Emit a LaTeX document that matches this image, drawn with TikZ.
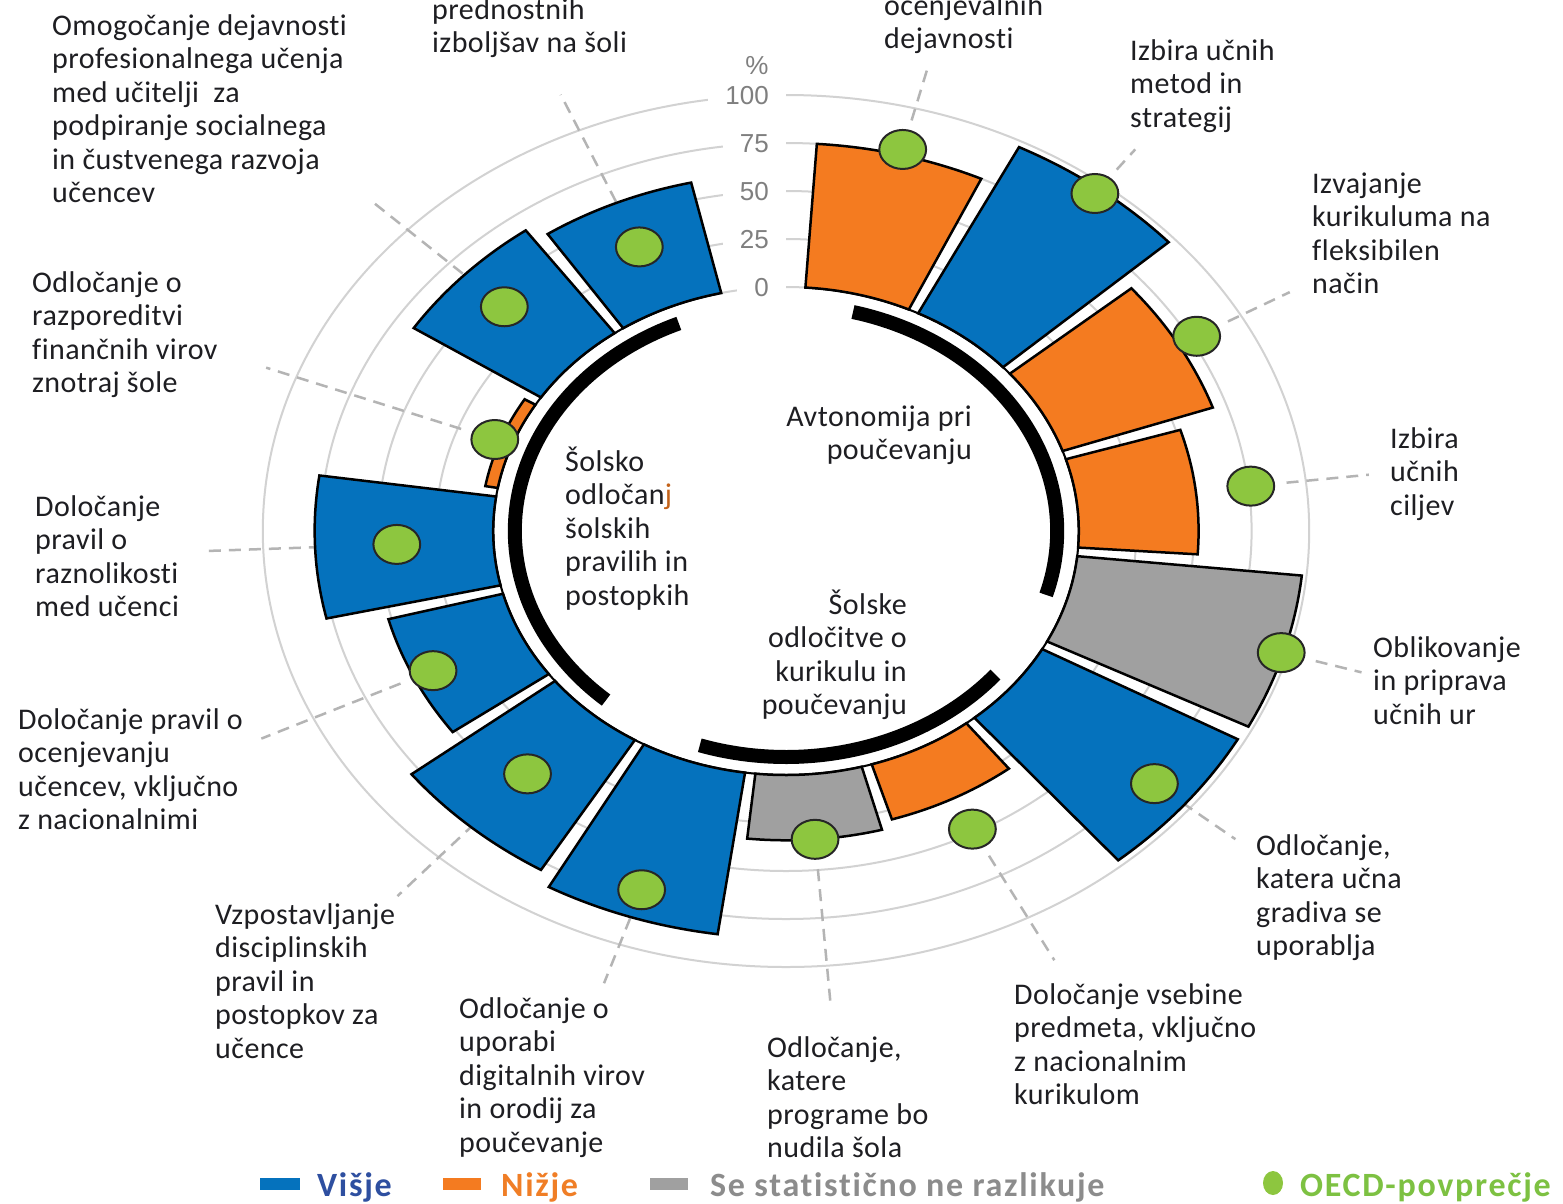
\documentclass[tikz,border=0pt]{standalone}
\usepackage{fontspec}
\setmainfont{Carlito}[LetterSpace=1.5, RawFeature={-liga}]
\newfontfamily\legfont{Carlito}[LetterSpace=5, RawFeature={-liga}]
\newfontfamily\axfont{Liberation Sans}
\definecolor{cblue}{HTML}{0572BD}
\definecolor{corange}{HTML}{F47B20}
\definecolor{cgray}{HTML}{A0A0A0}
\definecolor{cgreen}{HTML}{8DC63F}
\definecolor{ringc}{HTML}{D2D2D2}
\definecolor{leadc}{HTML}{B4B4B4}
\definecolor{txt}{HTML}{1E1E22}
\definecolor{axc}{HTML}{7F7F7F}
\definecolor{legblue}{HTML}{2E4FA0}
\definecolor{legorange}{HTML}{F07E26}
\definecolor{leggray}{HTML}{8C8C8C}
\definecolor{leggreen}{HTML}{7DC142}
\tikzset{
  lab/.style={font=\fontsize{30}{33.5}\selectfont, text=txt, inner sep=0pt},
  bar/.style={draw=black, line width=2.5pt},
  dotst/.style={fill=cgreen, draw=black!85, line width=2pt},
  ringline/.style={draw=ringc, line width=2pt},
  leader/.style={draw=leadc, line width=2.5pt, dash pattern=on 12pt off 8pt},
  axl/.style={font=\axfont\fontsize{26}{26}\selectfont, text=axc, fill=white, inner xsep=17pt, inner ysep=1pt, anchor=east},
  bracket/.style={line width=14pt, draw=black},
  legtxt/.style={font=\legfont\bfseries\fontsize{34}{34}\selectfont, inner sep=0pt, anchor=base west}
}
\newcommand\mlab[5]{%
  \foreach \mytext [count=\myi] in {#5}{%
    \node[lab, anchor=#1] (#2-\myi) at (#3,{#4+33.5*(\myi-1)}) {\mytext};}}
\def\CX{786}
\def\CY{531}
\def\SX{1.2}
\begin{document}
\begin{tikzpicture}[x=1pt,y=-1pt]
\useasboundingbox (0,0) rectangle (1563,1203);
\clip (0,0) rectangle (1563,1203);
\fill[white] (0,0) rectangle (1563,1203);

% grid rings
\foreach \rr in {244,292,340,388,436}{
  \pgfmathsetmacro\rx{\SX*\rr}
  \draw[ringline] (\CX,\CY) ellipse[x radius=\rx pt, y radius=\rr pt];
}

% axis labels
\node[axl] (t100) at (786,96) {100};
\node[axl] (t75) at (786,144) {75};
\node[axl] (t50) at (786,192) {50};
\node[axl] (t25) at (786,240) {25};
\node[axl] (t0) at (786,288) {0};
\node[font=\axfont\fontsize{26}{26}\selectfont, text=axc, inner sep=0pt] (pct) at (757,66) {\%};

% data: k / colour / value / OECD / leader end
\def\data{1/corange/75/78/478, 2/cblue/97/94/480, 3/corange/69/78/483,
  4/corange/52/76/489, 5/cgray/98/97/500, 6/cblue/97/80/485,
  7/corange/30/48/484, 8/cgray/34/34/476, 9/cblue/85/70/477,
  10/cblue/79/42/488, 11/cblue/51.5/42.5/484, 12/cblue/77.5/42/484,
  13/corange/5.5/8/463, 14/cblue/66/42/479, 15/cblue/59/34/475}

% leaders
\foreach \kk/\col/\val/\dv/\lr in \data{
  \pgfmathsetmacro\mang{75.7-23.03*(\kk-1)}
  \pgfmathsetmacro\rs{244+1.92*\dv+30}
  \coordinate (ls\kk) at ({\CX+\SX*\rs*cos(\mang)},{\CY-\rs*sin(\mang)});
  \coordinate (le\kk) at ({\CX+\SX*\lr*cos(\mang)},{\CY-\lr*sin(\mang)});
  \draw[leader] (ls\kk) -- (le\kk);
}

% inner baseline (black) except in the axis gap
\draw[line width=2pt] plot[variable=\t, domain=86.2:-256.7, samples=200] ({\CX+\SX*244*cos(\t)},{\CY-244*sin(\t)});

% bars
\foreach \kk/\col/\val/\dv/\lr in \data{
  \pgfmathsetmacro\mang{75.7-23.03*(\kk-1)}
  \pgfmathsetmacro\angA{\mang+10.5}
  \pgfmathsetmacro\angB{\mang-10.5}
  \pgfmathsetmacro\rout{244+1.92*\val}
  \filldraw[bar, fill=\col]
    plot[variable=\t, domain=\angA:\angB, samples=25] ({\CX+\SX*\rout*cos(\t)},{\CY-\rout*sin(\t)})
    -- plot[variable=\t, domain=\angB:\angA, samples=25] ({\CX+\SX*244*cos(\t)},{\CY-244*sin(\t)})
    -- cycle;
}

% OECD dots
\foreach \kk/\col/\val/\dv/\lr in \data{
  \pgfmathsetmacro\mang{75.7-23.03*(\kk-1)}
  \pgfmathsetmacro\rd{244+1.92*\dv}
  \coordinate (dot\kk) at ({\CX+\SX*\rd*cos(\mang)},{\CY-\rd*sin(\mang)});
  \filldraw[dotst] (dot\kk) ellipse[x radius=23.4pt, y radius=19.5pt];
}

% category brackets
\draw[bracket] plot[variable=\t, domain=75.7:-16.42, samples=60] ({\CX+\SX*226*cos(\t)},{\CY-226*sin(\t)});
\draw[bracket] plot[variable=\t, domain=-39.45:-108.54, samples=60] ({\CX+\SX*226*cos(\t)},{\CY-226*sin(\t)});
\draw[bracket] plot[variable=\t, domain=-131.57:-246.72, samples=80] ({\CX+\SX*226*cos(\t)},{\CY-226*sin(\t)});

% centre labels
\mlab{base east}{ca}{972}{426}{Avtonomija pri, poučevanju}
\mlab{base east}{cb}{907}{614}{Šolske, odločitve o, kurikulu in, poučevanju}
\mlab{base west}{cc}{565}{471}{Šolsko, odločan\textcolor{corange!80!black}{j}, šolskih, pravilih in, postopkih}

% outer labels
\mlab{base west}{l1}{884}{15}{ocenjevalnih, dejavnosti}
\mlab{base west}{l2}{1130}{60}{Izbira učnih, metod in, strategij}
\mlab{base west}{l3}{1312}{193}{Izvajanje, kurikuluma na, fleksibilen, način}
\mlab{base west}{l4}{1390}{448}{Izbira, učnih, ciljev}
\mlab{base west}{l5}{1373}{657}{Oblikovanje, in priprava, učnih ur}
\mlab{base west}{l6}{1256}{855}{{Odločanje,}, katera učna, gradiva se, uporablja}
\mlab{base west}{l7}{1014}{1004}{Določanje vsebine, {predmeta, vključno}, z nacionalnim, kurikulom}
\mlab{base west}{l8}{767}{1057}{{Odločanje,}, katere, programe bo, nudila šola}
\mlab{base west}{l9}{459}{1018}{Odločanje o, uporabi, digitalnih virov, in orodij za, poučevanje}
\mlab{base west}{l10}{215}{924}{Vzpostavljanje, disciplinskih, pravil in, postopkov za, učence}
\mlab{base west}{l11}{18}{729}{Določanje pravil o, ocenjevanju, {učencev, vključno}, z nacionalnimi}
\mlab{base west}{l12}{35}{516}{Določanje, pravil o, raznolikosti, med učenci}
\mlab{base west}{l13}{32}{292}{Odločanje o, razporeditvi, finančnih virov, znotraj šole}
\mlab{base west}{l14}{52}{35}{Omogočanje dejavnosti, profesionalnega učenja, med učitelji\ \ za, podpiranje socialnega, in čustvenega razvoja, učencev}
\mlab{base west}{l15}{432}{19}{prednostnih, izboljšav na šoli}

% legend
\fill[cblue] (260,1178) rectangle (300,1190);
\node[legtxt, text=legblue] (lg1) at (317,1196) {Višje};
\fill[corange] (443,1178) rectangle (481,1190);
\node[legtxt, text=legorange] (lg2) at (501,1196) {Nižje};
\fill[cgray] (650,1178) rectangle (688,1190);
\node[legtxt, text=leggray] (lg3) at (710,1196) {Se statistično ne razlikuje};
\fill[cgreen] (1273,1183) ellipse[x radius=10pt, y radius=12pt];
\node[legtxt, text=leggreen] (lg4) at (1300,1196) {OECD-povprečje};
\end{tikzpicture}
\end{document}
